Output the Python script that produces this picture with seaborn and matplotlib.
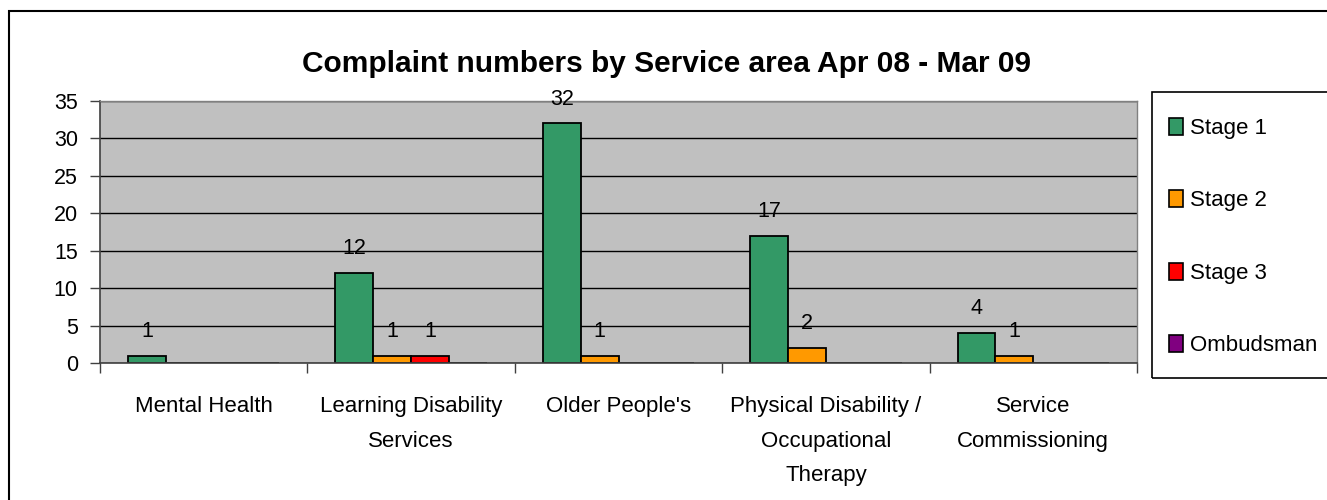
import matplotlib
matplotlib.use("Agg")
import matplotlib.pyplot as plt
import matplotlib.patches as mpatches
import seaborn as sns
import pandas as pd

categories = ["Mental Health", "Learning Disability\nServices", "Older People's",
              "Physical Disability /\nOccupational\nTherapy", "Service\nCommissioning"]
series = ["Stage 1", "Stage 2", "Stage 3", "Ombudsman"]
stage1 = [1, 12, 32, 17, 4]
stage2 = [0, 1, 1, 2, 1]
stage3 = [0, 1, 0, 0, 0]
ombudsman = [0, 0, 0, 0, 0]
colors = ["#339966", "#FF9900", "#FF0000", "#800080"]
yticks = [0, 5, 10, 15, 20, 25, 30, 35]
title = "Complaint numbers by Service area Apr 08 - Mar 09"

rows = []
for s, vals in zip(series, [stage1, stage2, stage3, ombudsman]):
    for c, v in zip(categories, vals):
        rows.append({"category": c, "series": s, "value": v})
df = pd.DataFrame(rows)

sns.set_style("white")
plt.rcParams["font.family"] = ["Liberation Sans", "DejaVu Sans"]
plt.rcParams["text.color"] = "black"
plt.rcParams["xtick.color"] = "black"
plt.rcParams["ytick.color"] = "black"

FS = 16
W, H = 1327, 500
fig = plt.figure(figsize=(W / 100, H / 100), dpi=100)
ax = fig.add_axes([100 / W, 1 - 363 / H, (1137 - 100) / W, (363 - 101) / H])
ax.set_facecolor("#C0C0C0")

sns.barplot(data=df, x="category", y="value", hue="series", order=categories,
            hue_order=series, palette=colors, width=0.73, edgecolor="black",
            linewidth=1.3, saturation=1, ax=ax, legend=False, errorbar=None)

ax.set_ylim(0, 35)
ax.set_xlim(-0.5, len(categories) - 0.5)
ax.set_yticks(yticks)
ax.set_yticklabels([str(t) for t in yticks], fontsize=15.5)
ax.yaxis.grid(True, color="black", linewidth=1)
ax.set_axisbelow(True)
ax.set_xlabel("")
ax.set_ylabel("")
ax.set_xticks(range(len(categories)))
ax.set_xticklabels(categories, fontsize=FS, linespacing=1.84)
ax.tick_params(axis="x", which="major", bottom=True, length=0, pad=24)
ax.set_xticks([i - 0.5 for i in range(len(categories) + 1)], minor=True)
ax.tick_params(axis="x", which="minor", bottom=True, length=7, width=1,
               color="#404040", direction="out")
ax.tick_params(axis="y", left=True, length=7, width=1, color="#404040",
               direction="out", pad=9)
for side in ["top", "right"]:
    ax.spines[side].set_color("#808080")
    ax.spines[side].set_linewidth(1)
for side in ["left", "bottom"]:
    ax.spines[side].set_color("#404040")
    ax.spines[side].set_linewidth(1.2)

for cont in ax.containers:
    for bar in cont:
        h = bar.get_height()
        if h > 0:
            ax.annotate(f"{int(h)}", (bar.get_x() + bar.get_width() / 2, h),
                        xytext=(0, 10), textcoords="offset points",
                        ha="center", va="bottom", fontsize=15.5, annotation_clip=False)

fig.text(667 / W, 1 - 72 / H, title, ha="center", va="baseline", fontsize=21.5,
         fontweight="bold")

# figure border (right and bottom edges lie outside the picture)
fig.patches.append(mpatches.Rectangle((9 / W, -0.05), 1.2, 1.05 - 11 / H,
                                      transform=fig.transFigure, fill=False,
                                      edgecolor="black", linewidth=1.5, clip_on=False))
# legend frame
fig.patches.append(mpatches.Rectangle((1152 / W, 1 - 378 / H), 200 / W, (378 - 92) / H,
                                      transform=fig.transFigure, fill=False,
                                      edgecolor="black", linewidth=1.2))
handles = [mpatches.Patch(facecolor=c, edgecolor="black", linewidth=1.2, label=s)
           for c, s in zip(colors, series)]
fig.legend(handles=handles, loc="center left", bbox_to_anchor=(1169 / W, 1 - 237 / H),
           frameon=False, fontsize=FS, handlelength=0.63, handleheight=0.8,
           handletextpad=0.3, labelspacing=2.3, borderaxespad=0, borderpad=0)

fig.savefig("out.png", dpi=100)
